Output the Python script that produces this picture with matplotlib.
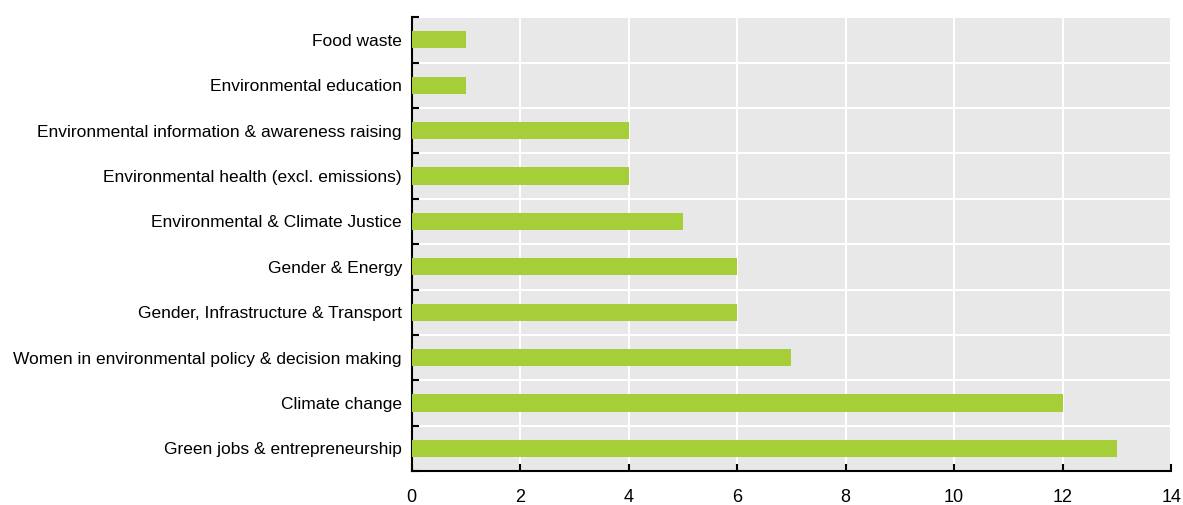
import matplotlib.pyplot as plt
import numpy as np
from matplotlib import font_manager

categories = [
    "Green jobs & entrepreneurship",
    "Climate change",
    "Women in environmental policy & decision making",
    "Gender, Infrastructure & Transport",
    "Gender & Energy",
    "Environmental & Climate Justice",
    "Environmental health (excl. emissions)",
    "Environmental information & awareness raising",
    "Environmental education",
    "Food waste",
]
counts = [13, 12, 7, 6, 6, 5, 4, 4, 1, 1]
x_ticks = [0, 2, 4, 6, 8, 10, 12, 14]

names = {f.name for f in font_manager.fontManager.ttflist}
fam = "Liberation Sans Narrow" if "Liberation Sans Narrow" in names else "Liberation Sans"
plt.rcParams['font.family'] = [fam, 'DejaVu Sans']

fig = plt.figure(figsize=(11.83, 5.05), dpi=100)
ax = fig.add_axes([0.348, 0.067, 0.642, 0.899])
ax.set_facecolor('#E8E8E8')

y = np.arange(len(categories))
ax.barh(y, counts, height=0.38, color='#A6CE39', zorder=3)

ax.set_xlim(0, 14)
ax.set_ylim(-0.5, len(categories) - 0.5)
ax.set_xticks(x_ticks)
ax.set_xticklabels([str(t) for t in x_ticks], fontsize=13)
ax.set_yticks(y)
ax.set_yticklabels(categories, fontsize=12.5)
ax.set_yticks(np.arange(-0.5, len(categories)), minor=True)

ax.tick_params(axis='y', which='major', length=0, pad=7)
ax.tick_params(axis='y', which='minor', direction='in', length=5, width=1.5, color='black')
ax.tick_params(axis='x', which='major', direction='in', length=5, width=1.5, pad=13)

ax.grid(axis='x', which='major', color='white', linewidth=1.5, zorder=1)
ax.grid(axis='y', which='minor', color='white', linewidth=1.5, zorder=1)
ax.set_axisbelow(True)

for s in ['top', 'right']:
    ax.spines[s].set_visible(False)
for s in ['left', 'bottom']:
    ax.spines[s].set_linewidth(1.5)

fig.savefig('out.png', dpi=100)
